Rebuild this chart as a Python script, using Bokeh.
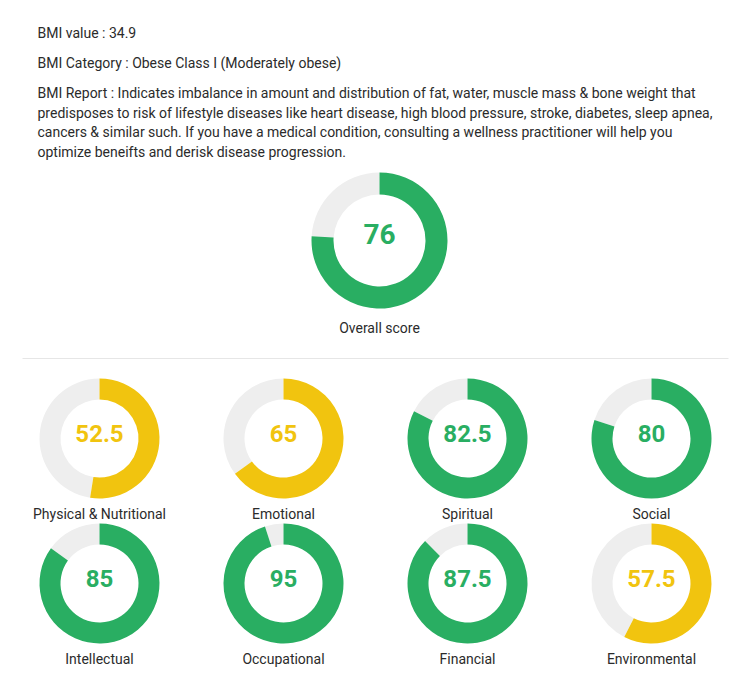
from math import pi
from bokeh.plotting import figure
from bokeh.models import Range1d
from bokeh.core.properties import value
from bokeh.embed import file_html
from bokeh.resources import INLINE

# ---- data ----
bmi_value = 34.9
bmi_category = "Obese Class I (Moderately obese)"
report_lines = [
    "BMI Report : Indicates imbalance in amount and distribution of fat, water, muscle mass & bone weight that",
    "predisposes to risk of lifestyle diseases like heart disease, high blood pressure, stroke, diabetes, sleep apnea,",
    "cancers & similar such. If you have a medical condition, consulting a wellness practitioner will help you",
    "optimize beneifts and derisk disease progression.",
]
overall_label = "Overall score"
overall_score = 76
categories = ["Physical & Nutritional", "Emotional", "Spiritual", "Social",
              "Intellectual", "Occupational", "Financial", "Environmental"]
scores = [52.5, 65, 82.5, 80, 85, 95, 87.5, 57.5]

GREEN = "#29ae62"
YELLOW = "#f1c40f"
GRAY = "#eeeeee"
TEXT = "#2b2b2b"
W, H = 750, 691

p = figure(width=W, height=H, x_range=Range1d(0, W), y_range=Range1d(0, H),
           output_backend="svg", toolbar_location=None,
           x_axis_location=None, y_axis_location=None, min_border=0)
p.grid.visible = False
p.outline_line_color = None
p.background_fill_color = "white"

FONT = value("Roboto")

def Y(py):
    return H - py

def fmt(v):
    return str(int(v)) if float(v).is_integer() else str(v)

def donut(cx, cy, r_in, r_out, score, label, num_size, label_dy, num_dy):
    col = GREEN if score >= 75 else YELLOW
    frac = score / 100.0
    start = pi / 2
    end = pi / 2 - 2 * pi * frac
    # gray remainder
    if frac < 1:
        p.annular_wedge(x=[cx], y=[Y(cy)], inner_radius=r_in, outer_radius=r_out,
                        start_angle=[end], end_angle=[start - 2 * pi],
                        direction="clock", fill_color=GRAY, line_color=None)
    # coloured score
    p.annular_wedge(x=[cx], y=[Y(cy)], inner_radius=r_in, outer_radius=r_out,
                    start_angle=[start], end_angle=[end],
                    direction="clock", fill_color=col, line_color=None)
    p.text(x=[cx], y=[Y(cy + num_dy)], text=[fmt(score)], text_font=FONT,
           text_font_style="bold", text_font_size=num_size, text_color=col,
           text_align="center", text_baseline="middle")
    p.text(x=[cx], y=[Y(cy + label_dy)], text=[label], text_font=FONT,
           text_font_size="14px", text_color=TEXT,
           text_align="center", text_baseline="middle")

# header texts
header = [f"BMI value : {bmi_value}", f"BMI Category : {bmi_category}"] + report_lines
header_y = [32, 62, 92, 112, 131, 151]
p.text(x=[37] * len(header), y=[Y(v) for v in header_y], text=header,
       text_font=FONT, text_font_size="14px", text_color=TEXT,
       text_align="left", text_baseline="middle")

# overall donut
donut(379, 240, 46, 68, overall_score, overall_label, "28px", 87, -7)

# separator
p.line(x=[22, 728], y=[Y(358), Y(358)], line_color="#e6e6e6", line_width=1)

# small donuts
for i, (cat, sc) in enumerate(zip(categories, scores)):
    cx = 99 + 184 * (i % 4)
    cy = 438 + 145 * (i // 4)
    donut(cx, cy, 39, 60, sc, cat, "24px", 75, -5)

open("out.html", "w").write(file_html(p, INLINE))
